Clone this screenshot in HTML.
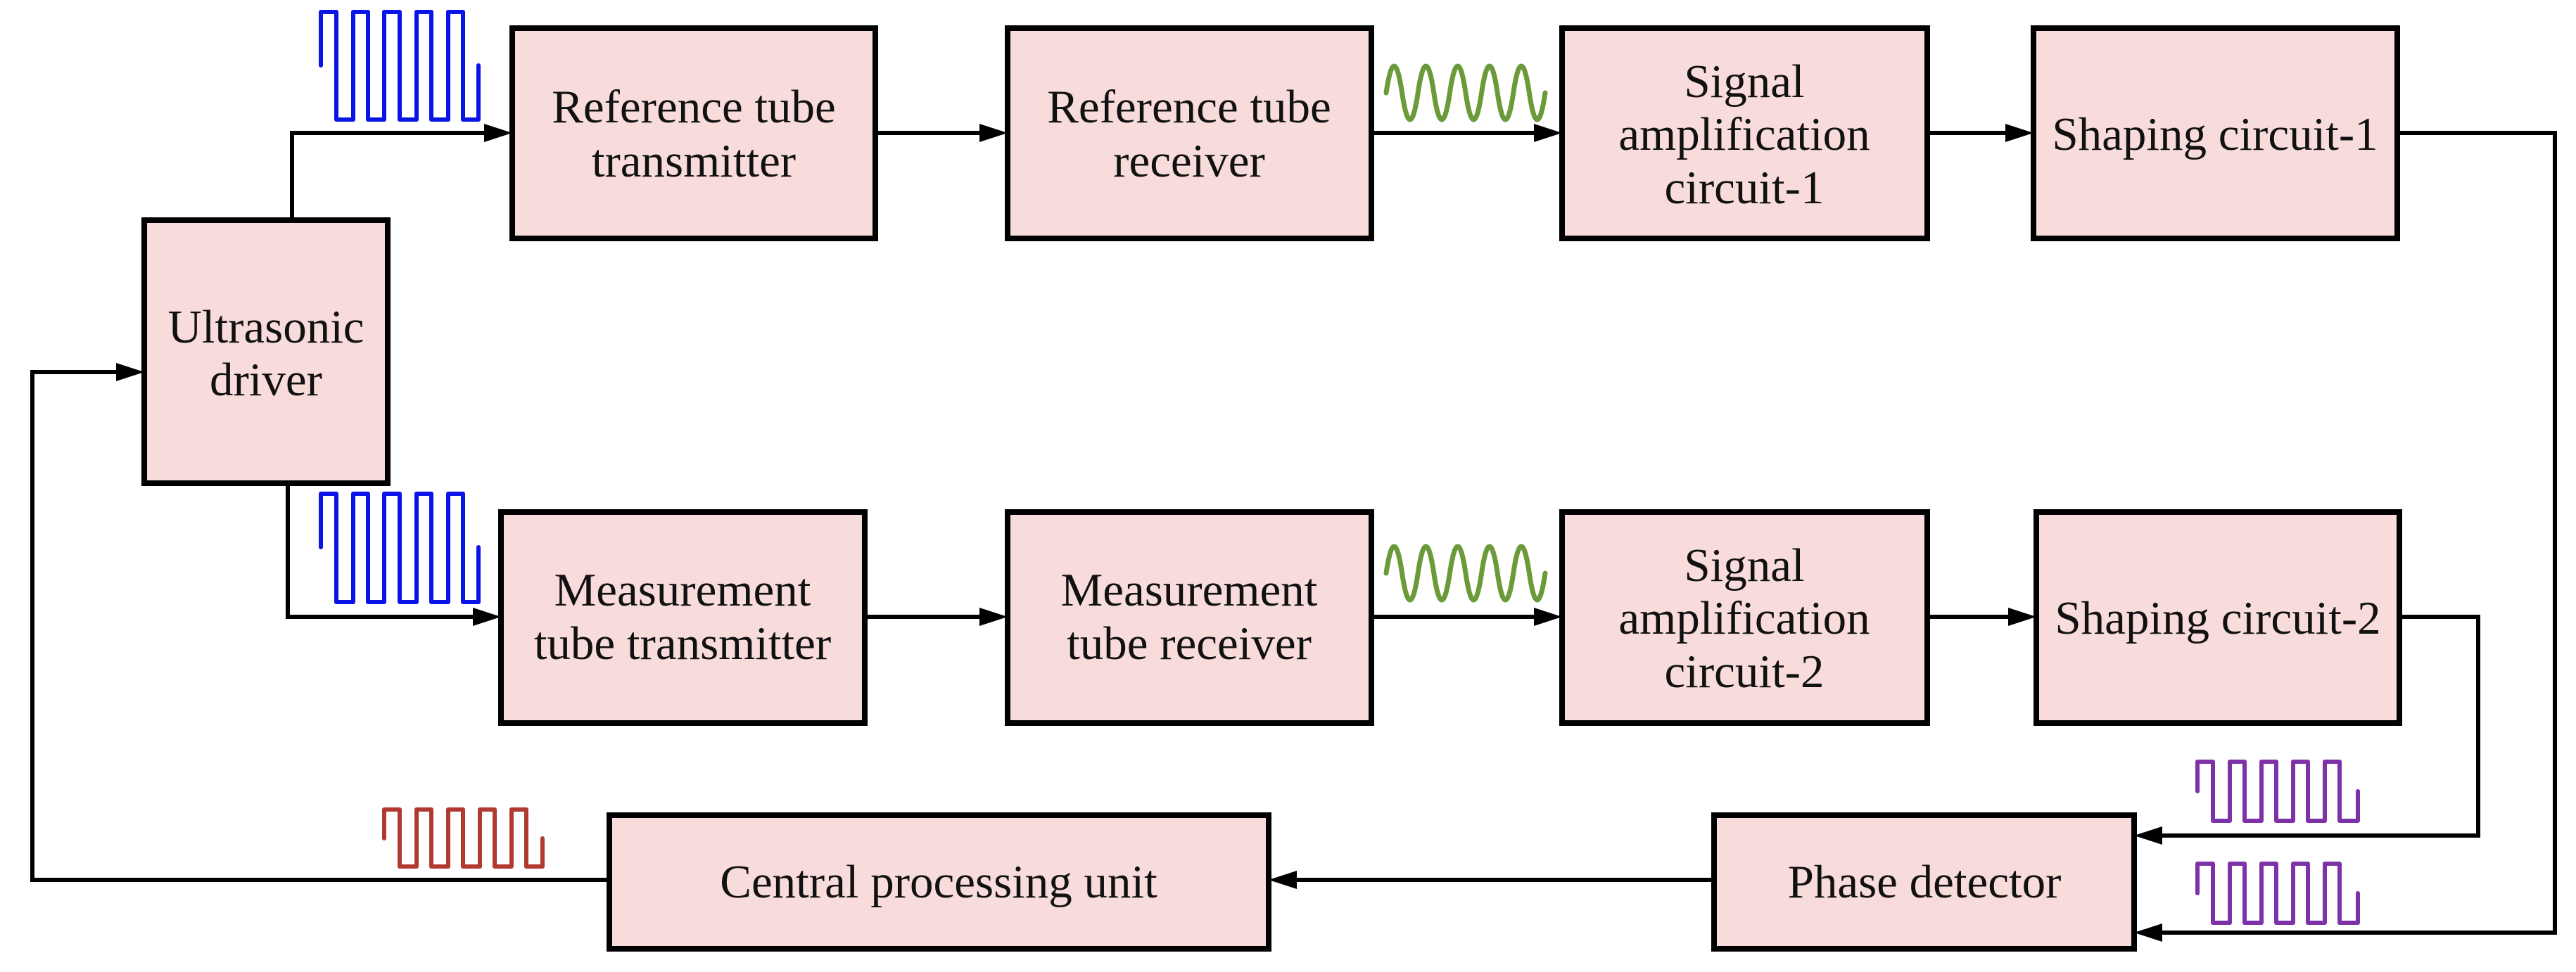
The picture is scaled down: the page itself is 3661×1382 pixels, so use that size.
<!DOCTYPE html>
<html><head><meta charset="utf-8"><style>
html,body{margin:0;padding:0;background:#fff;}
svg{display:block}
text{font-family:"Liberation Serif",serif;font-size:67px;fill:#111;text-anchor:middle}
</style></head><body>
<svg width="3661" height="1382" viewBox="0 0 3661 1382" xmlns="http://www.w3.org/2000/svg">
<g fill="#f8dcdb" stroke="#000" stroke-width="8">
<rect x="205" y="313" width="346" height="374"/>
<rect x="728" y="40" width="516" height="299"/>
<rect x="1432" y="40" width="517" height="299"/>
<rect x="2220" y="40" width="519" height="299"/>
<rect x="2890" y="40" width="517" height="299"/>
<rect x="712" y="728" width="517" height="300"/>
<rect x="1432" y="728" width="517" height="300"/>
<rect x="2220" y="728" width="519" height="300"/>
<rect x="2894" y="728" width="516" height="300"/>
<rect x="866" y="1159" width="937" height="190"/>
<rect x="2436" y="1159" width="597" height="190"/>
</g>
<g fill="none" stroke="#000" stroke-width="6">
<polyline points="415,313 415,189 690,189"/>
<polyline points="409,687 409,877 674,877"/>
<line x1="1244" y1="189" x2="1394" y2="189"/>
<line x1="1949" y1="189" x2="2182" y2="189"/>
<line x1="2739" y1="189" x2="2852" y2="189"/>
<line x1="1229" y1="877" x2="1394" y2="877"/>
<line x1="1949" y1="877" x2="2182" y2="877"/>
<line x1="2739" y1="877" x2="2856" y2="877"/>
<polyline points="866,1251 46,1251 46,529 167,529"/>
<line x1="2436" y1="1251" x2="1841" y2="1251"/>
<polyline points="3407,189 3631,189 3631,1326 3072,1326"/>
<polyline points="3410,877 3522,877 3522,1188 3072,1188"/>
</g>
<g fill="#000">
<polygon points="728,189 688,176 688,202"/>
<polygon points="712,877 672,864 672,890"/>
<polygon points="1432,189 1392,176 1392,202"/>
<polygon points="2220,189 2180,176 2180,202"/>
<polygon points="2890,189 2850,176 2850,202"/>
<polygon points="1432,877 1392,864 1392,890"/>
<polygon points="2220,877 2180,864 2180,890"/>
<polygon points="2894,877 2854,864 2854,890"/>
<polygon points="205,529 165,516 165,542"/>
<polygon points="1803,1251 1843,1238 1843,1264"/>
<polygon points="3033,1188 3073,1175 3073,1201"/>
<polygon points="3033,1326 3073,1313 3073,1339"/>
</g>
<g fill="none" stroke-width="6" stroke-linejoin="round" stroke-linecap="round">
<path stroke="#0a14e6" d="M456,93 V17 H478 V170 H502 V17 H523 V170 H546 V17 H568 V170 H592 V17 H613 V170 H637 V17 H658 V170 H680 V93"/>
<path stroke="#0a14e6" d="M456,778 V702 H478 V856 H502 V702 H523 V856 H546 V702 H568 V856 H592 V702 H613 V856 H637 V702 H658 V856 H680 V778"/>
<path stroke="#b03a30" d="M546,1192 V1151 H568 V1232 H592 V1151 H613 V1232 H637 V1151 H658 V1232 H682 V1151 H703 V1232 H727 V1151 H748 V1232 H771 V1192"/>
<path stroke="#7e32a8" d="M3123,1125 V1083 H3145 V1167 H3169 V1083 H3190 V1167 H3214 V1083 H3235 V1167 H3259 V1083 H3280 V1167 H3304 V1083 H3325 V1167 H3351 V1125"/>
<path stroke="#7e32a8" d="M3123,1270 V1228 H3145 V1312 H3169 V1228 H3190 V1312 H3214 V1228 H3235 V1312 H3259 V1228 H3280 V1312 H3304 V1228 H3325 V1312 H3351 V1270"/>
<path stroke="#6a9a3a" stroke-width="7" d="M1970,132 Q1981.3,56 1992.6,132 Q2003.9,208 2015.2,132 Q2026.5,56 2037.8,132 Q2049.1,208 2060.4,132 Q2071.7,56 2083,132 Q2094.3,208 2105.6,132 Q2116.9,56 2128.2,132 Q2139.5,208 2150.8,132 Q2162.1,56 2173.4,132 Q2184.7,208 2196,132"/>
<path stroke="#6a9a3a" stroke-width="7" d="M1970,815 Q1981.3,739 1992.6,815 Q2003.9,891 2015.2,815 Q2026.5,739 2037.8,815 Q2049.1,891 2060.4,815 Q2071.7,739 2083,815 Q2094.3,891 2105.6,815 Q2116.9,739 2128.2,815 Q2139.5,891 2150.8,815 Q2162.1,739 2173.4,815 Q2184.7,891 2196,815"/>
</g>
<text x="378" y="487">Ultrasonic</text>
<text x="378" y="562">driver</text>
<text x="986" y="174">Reference tube</text>
<text x="986" y="251">transmitter</text>
<text x="1690" y="174">Reference tube</text>
<text x="1690" y="251">receiver</text>
<text x="2479" y="138">Signal</text>
<text x="2479" y="213">amplification</text>
<text x="2479" y="289">circuit-1</text>
<text x="3148" y="213">Shaping circuit-1</text>
<text x="970" y="861">Measurement</text>
<text x="970" y="937">tube transmitter</text>
<text x="1690" y="861">Measurement</text>
<text x="1690" y="937">tube receiver</text>
<text x="2479" y="826">Signal</text>
<text x="2479" y="901">amplification</text>
<text x="2479" y="977">circuit-2</text>
<text x="3152" y="901">Shaping circuit-2</text>
<text x="1334" y="1276">Central processing unit</text>
<text x="2735" y="1276">Phase detector</text>
</svg>
</body></html>
